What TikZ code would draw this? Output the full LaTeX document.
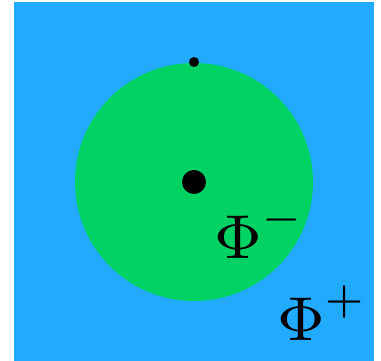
\documentclass[tikz,border=0pt]{standalone}
\usepackage{graphicx}
\definecolor{bgblue}{RGB}{34,170,255}
\definecolor{discgreen}{RGB}{0,210,100}
\newcommand{\biglbl}[2]{\scalebox{7.75}{\footnotesize$#1^{\raisebox{0.9pt}{\scalebox{0.9}{$\scriptstyle #2$}}}$}}
\begin{document}
\begin{tikzpicture}[x=1pt,y=1pt,
  lbl/.style={inner sep=0pt,outer sep=0pt,anchor=base west}]
\useasboundingbox (0,0) rectangle (381,361);
\fill[bgblue] (14,0) rectangle (374,359);
\fill[discgreen] (194,179) circle[radius=119];
\fill[black] (194,179) circle[radius=12];
\fill[black] (194,299) circle[radius=5];
\node[lbl] (phim) at (214,102) {\biglbl{\Phi}{-}};
\node[lbl] (phip) at (277,20) {\biglbl{\Phi}{+}};
\end{tikzpicture}
\end{document}
